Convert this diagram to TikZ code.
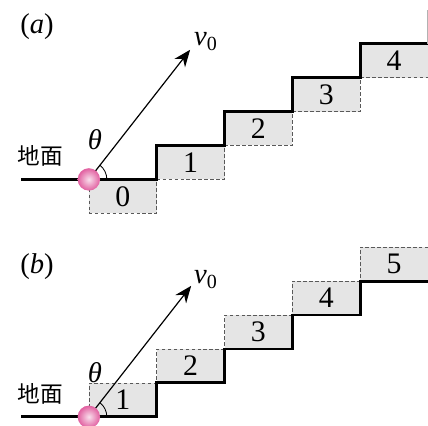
\documentclass[tikz,border=0pt]{standalone}
\usepackage{fontspec}
\setmainfont{Liberation Serif}
\newfontfamily\cjk{Noto Sans CJK TC}
\usetikzlibrary{arrows.meta,calc}
\definecolor{ballpink}{RGB}{225,95,160}

\begin{document}
\begin{tikzpicture}[>={Stealth[length=5mm,width=4mm]},
 blk/.style={draw=gray!70!black,densely dashed,line width=0.5pt,fill=gray!20,minimum width=2cm,minimum height=1cm,inner sep=0pt,font=\fontsize{25}{25}\selectfont},
 stair/.style={line width=2.4pt,line join=miter},
 ball/.style={circle,inner color=ballpink!20!white,outer color=ballpink,minimum size=0.66cm,inner sep=0pt},
 lbl/.style={font=\fontsize{24}{24}\selectfont},
 gnd/.style={font=\cjk\fontsize{19}{19}\selectfont}]
\useasboundingbox (-2.62,-7.27) rectangle (10,5.29);
% (a)
\foreach \k in {0,...,4} \node[blk] (a\k) at (2*\k+1,\k-0.5) {\k};
\draw[stair] (-2,0) -- (2,0) |- (4,1) |- (6,2) |- (8,3) |- (10,4);
\draw[gray!60,thin] (9.98,4) -- (9.98,5);
\coordinate (oa) at (0,0);
\coordinate (va) at (52:4.85);
\draw[->,line width=1pt] (oa) -- (va);
\draw[line width=0.7pt] (0.53,0) arc (0:52:0.53);
\node[ball] (ba) at (oa) {};
\node[lbl] (v0a) at (3.45,4.07) {\textit{v}\textsubscript{0}};
\node[lbl] (tha) at (0.18,1.18) {\textit{θ}};
\node[gnd] (ga) at (-1.44,0.68) {地面};
\node[lbl] (pa) at (-1.53,4.5) {(\textit{a})};
% (b)
\foreach \k in {1,...,5} \node[blk] (b\k) at (2*\k-1,\k-7.5) {\k};
\draw[stair] (-2,-7) -- (2,-7) |- (4,-6) |- (6,-5) |- (8,-4) |- (10,-3);
\coordinate (ob) at (0,-7);
\coordinate (vb) at ($(ob)+(52:4.9)$);
\draw[->,line width=1pt] (ob) -- (vb);
\draw[line width=0.7pt] (0.53,-7) arc (0:52:0.53);
\node[ball] (bb) at (ob) {};
\node[lbl] (v0b) at (3.45,-2.95) {\textit{v}\textsubscript{0}};
\node[lbl] (thb) at (0.18,-5.7) {\textit{θ}};
\node[gnd] (gb) at (-1.44,-6.32) {地面};
\node[lbl] (pb) at (-1.53,-2.56) {(\textit{b})};
\end{tikzpicture}
\end{document}
